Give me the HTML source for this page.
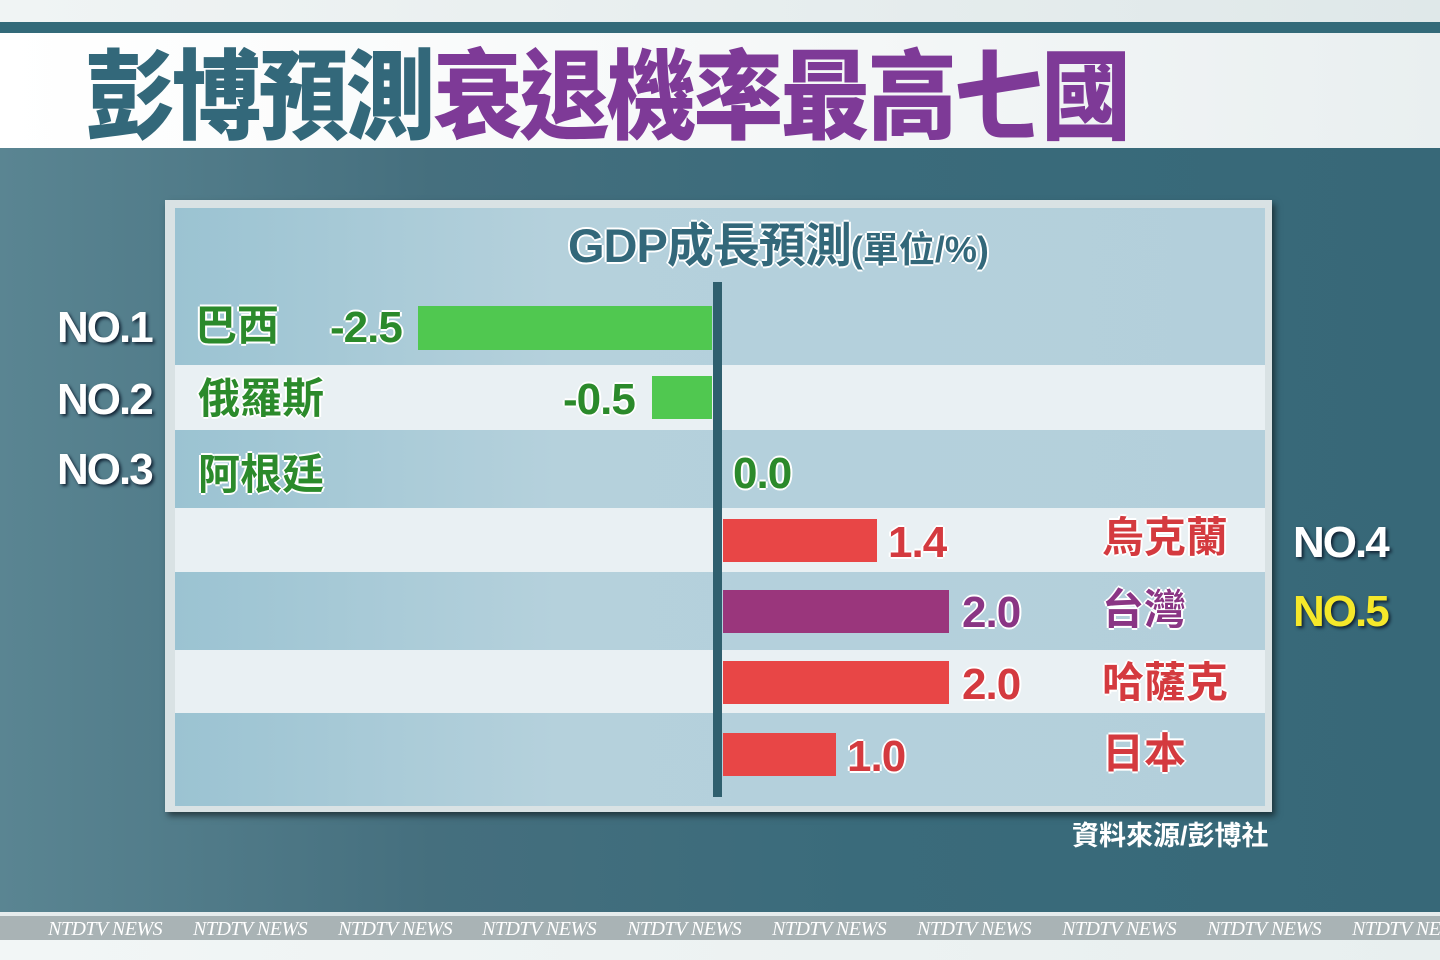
<!DOCTYPE html>
<html><head><meta charset="utf-8"><style>
*{margin:0;padding:0;box-sizing:border-box}
body{width:1440px;height:960px;position:relative;overflow:hidden;background:#3a6b7b;font-family:"Liberation Sans","Noto Sans CJK TC",sans-serif}
.a{position:absolute}
.t{position:absolute;font-weight:bold;white-space:nowrap;line-height:1}
.no{color:#fff;font-size:44px;text-shadow:2px 2px 3px #123;letter-spacing:-2px}
.g{color:#2b8a2b;text-shadow:-2px 0 #fff,2px 0 #fff,0 -2px #fff,0 2px #fff}
.r{color:#d43a3f;text-shadow:-2px 0 #fff,2px 0 #fff,0 -2px #fff,0 2px #fff}
.p{color:#8a3584;text-shadow:-2px 0 #fff,2px 0 #fff,0 -2px #fff,0 2px #fff}
.v{font-size:44px;letter-spacing:-1px}
.c{font-size:42px}
.tick{font-family:"Liberation Serif",serif;font-style:italic;color:#fff;font-size:20px;position:absolute;top:918px;white-space:nowrap;letter-spacing:-0.5px}
</style></head><body>
<div class="a" style="left:0;top:0;width:1440px;height:22px;background:linear-gradient(90deg,#f0f4f4,#dfe8e9)"></div>
<div class="a" style="left:0;top:22px;width:1440px;height:11px;background:#336a79"></div>
<div class="a" style="left:0;top:33px;width:1440px;height:115px;background:linear-gradient(90deg,#fff,#f4f7f7 60%,#e9eff0)"></div>
<div class="a" style="left:0;top:148px;width:1440px;height:764px;background:linear-gradient(90deg,#5a8592 0%,#456f7e 30%,#3a6b7b 60%,#376878 100%)"></div>
<div class="t" style="left:85px;top:40px;font-size:98px;letter-spacing:-3px;font-family:'Noto Sans CJK TC',sans-serif;font-weight:900;transform:scaleX(0.915);transform-origin:0 0"><span style="color:#33687a">彭博預測</span><span style="color:#7e3a97">衰退機率最高七國</span></div>

<div class="a" style="left:165px;top:200px;width:1107px;height:612px;background:#d9e2e4;box-shadow:3px 4px 6px rgba(0,0,0,.5)"></div>
<div class="a" style="left:175px;top:208px;width:1090px;height:598px;background:linear-gradient(90deg,#9bc3d2,#b5d1dc 35%,#b3cfdb 100%)"></div>
<div class="a" style="left:175px;top:365px;width:1090px;height:65px;background:#e9f0f3"></div>
<div class="a" style="left:175px;top:508px;width:1090px;height:64px;background:#e9f0f3"></div>
<div class="a" style="left:175px;top:650px;width:1090px;height:63px;background:#e9f0f3"></div>

<div class="t" style="left:568px;top:222px;font-size:47px;color:#33687a;letter-spacing:-1px;text-shadow:-2px 0 #fff,2px 0 #fff,0 -2px #fff,0 2px #fff">GDP成長預測<span style="font-size:36px;letter-spacing:0">(單位/%)</span></div>

<div class="a" style="left:713px;top:282px;width:9px;height:515px;background:#2f5f6e"></div>
<div class="a" style="left:418px;top:306px;width:294px;height:44px;background:#50c850"></div>
<div class="a" style="left:652px;top:376px;width:60px;height:43px;background:#50c850"></div>
<div class="a" style="left:723px;top:519px;width:154px;height:43px;background:#e84646"></div>
<div class="a" style="left:723px;top:590px;width:226px;height:43px;background:#9a367c"></div>
<div class="a" style="left:723px;top:661px;width:226px;height:43px;background:#e84646"></div>
<div class="a" style="left:723px;top:733px;width:113px;height:43px;background:#e84646"></div>

<div class="t no" style="left:57px;top:306px">NO.1</div>
<div class="t no" style="left:57px;top:378px">NO.2</div>
<div class="t no" style="left:57px;top:448px">NO.3</div>
<div class="t no" style="left:1293px;top:521px">NO.4</div>
<div class="t no" style="left:1293px;top:590px;color:#f5e82a">NO.5</div>

<div class="t g c" style="left:195px;top:305px">巴西</div>
<div class="t g c" style="left:198px;top:378px">俄羅斯</div>
<div class="t g c" style="left:198px;top:454px">阿根廷</div>
<div class="t g v" style="left:330px;top:306px">-2.5</div>
<div class="t g v" style="left:563px;top:378px">-0.5</div>
<div class="t g v" style="left:733px;top:452px">0.0</div>
<div class="t r v" style="left:888px;top:521px">1.4</div>
<div class="t p v" style="left:962px;top:591px">2.0</div>
<div class="t r v" style="left:962px;top:663px">2.0</div>
<div class="t r v" style="left:847px;top:735px">1.0</div>
<div class="t r c" style="left:1102px;top:517px">烏克蘭</div>
<div class="t p c" style="left:1102px;top:589px">台灣</div>
<div class="t r c" style="left:1102px;top:662px">哈薩克</div>
<div class="t r c" style="left:1102px;top:733px">日本</div>

<div class="t" style="left:1072px;top:823px;font-size:27px;color:#fff">資料來源/彭博社</div>

<div class="a" style="left:0;top:912px;width:1440px;height:4px;background:#e6eced"></div>
<div class="a" style="left:0;top:916px;width:1440px;height:24px;background:#a9b3b5"></div>
<div class="a" style="left:0;top:940px;width:1440px;height:20px;background:linear-gradient(90deg,#f2f6f6,#e8efef)"></div>
<div class="tick" style="left:-25px;width:20px;overflow:hidden;direction:rtl">NEWS</div>
<div class="tick" style="left:48px">NTDTV NEWS</div>
<div class="tick" style="left:193px">NTDTV NEWS</div>
<div class="tick" style="left:338px">NTDTV NEWS</div>
<div class="tick" style="left:482px">NTDTV NEWS</div>
<div class="tick" style="left:627px">NTDTV NEWS</div>
<div class="tick" style="left:772px">NTDTV NEWS</div>
<div class="tick" style="left:917px">NTDTV NEWS</div>
<div class="tick" style="left:1062px">NTDTV NEWS</div>
<div class="tick" style="left:1207px">NTDTV NEWS</div>
<div class="tick" style="left:1352px">NTDTV NEWS</div>
</body></html>
